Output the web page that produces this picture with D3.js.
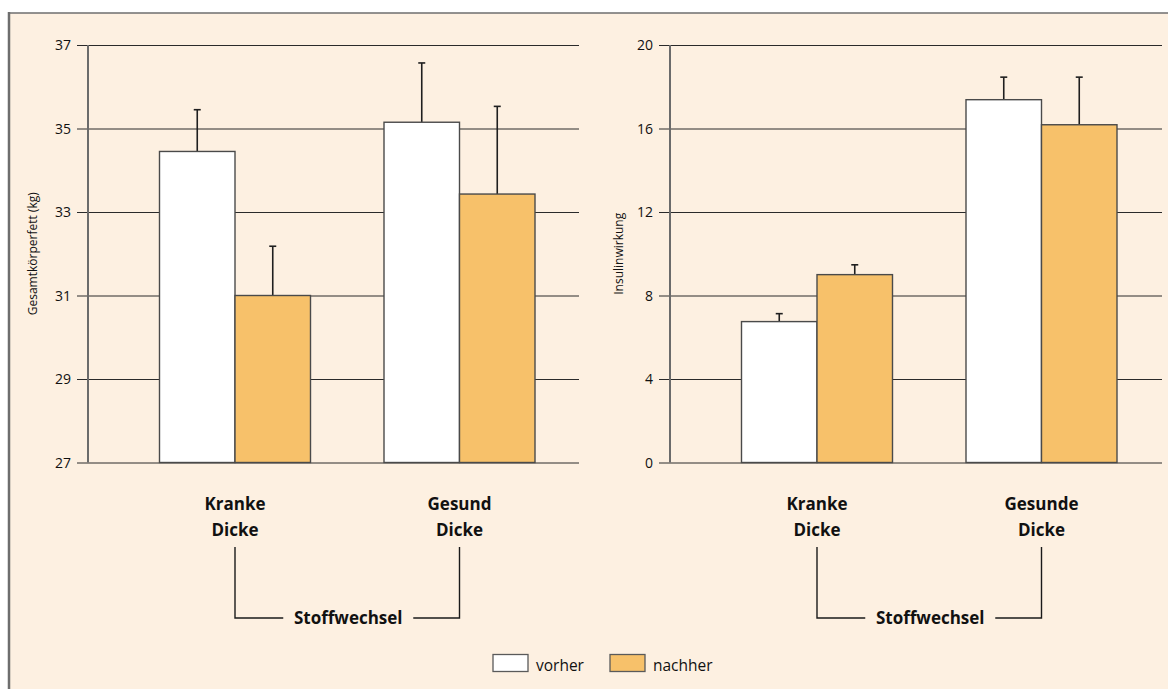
<!DOCTYPE html>
<html>
<head>
<meta charset="utf-8">
<script src="https://cdn.jsdelivr.net/npm/d3@7"></script>
<style>
  html, body { margin: 0; padding: 0; background: #fff; }
  svg { display: block; font-family: "Open Sans", "Noto Sans", sans-serif; }
</style>
</head>
<body>
<svg id="chart" width="1168" height="689"></svg>
<script>
// Groups and series
const groupsLeft = ["Kranke\nDicke", "Gesund\nDicke"];
const groupsRight = ["Kranke\nDicke", "Gesunde\nDicke"];
const series = ["vorher", "nachher"];

// Gesamtkörperfett (kg): means and upper error
const fatVorher = [34.45, 35.15];
const fatNachher = [31.0, 33.43];
const fatErrVorher = [1.0, 1.42];
const fatErrNachher = [1.18, 2.1];

// Insulinwirkung: means and upper error
const insVorher = [6.75, 17.38];
const insNachher = [9.0, 16.18];
const insErrVorher = [0.38, 1.08];
const insErrNachher = [0.47, 2.28];

// Axis ticks
const fatTicks = [27, 29, 31, 33, 35, 37];
const insTicks = [0, 4, 8, 12, 16, 20];

const colors = { vorher: "#ffffff", nachher: "#f7c16a" };
const bg = "#fdf0e1";
const fontFamily = '"Open Sans", "Noto Sans", sans-serif';

const svg = d3.select("#chart");

// panel background with left/top rule
svg.append("rect").attr("x", 9).attr("y", 13).attr("width", 1168).attr("height", 689).attr("fill", bg);
svg.append("line").attr("x1", 9).attr("x2", 9).attr("y1", 12).attr("y2", 689)
  .attr("stroke", "#6e6e6e").attr("stroke-width", 2.5);
svg.append("line").attr("x1", 8).attr("x2", 1168).attr("y1", 13).attr("y2", 13)
  .attr("stroke", "#6e6e6e").attr("stroke-width", 1.5);

function panel(opt) {
  const g = svg.append("g");
  const y = d3.scaleLinear().domain(opt.domain).range([462.5, 45]);
  const x = d3.scalePoint().domain(opt.groups).range([opt.axisX + 147, opt.axisX + 371.5]);
  const xs = d3.scaleBand().domain(series).range([-75.5, 75.5]).padding(0);

  // gridlines + ticks
  const axis = d3.axisLeft(y).tickValues(opt.ticks).tickSize(-(opt.gridEnd - opt.axisX)).tickPadding(17).tickFormat(d3.format("d"));
  const ag = g.append("g").attr("transform", `translate(${opt.axisX},0)`).call(axis)
    .attr("font-family", fontFamily).attr("font-size", 14);
  ag.select(".domain").remove();
  ag.selectAll(".tick line").attr("stroke", "#2a2a2a").attr("stroke-width", 1).attr("x1", -11);
  ag.selectAll(".tick text").attr("fill", "#111").attr("dy", "0.35em");

  // vertical axis line
  g.append("line").attr("x1", opt.axisX).attr("x2", opt.axisX)
    .attr("y1", y(opt.domain[1])).attr("y2", y(opt.domain[0]))
    .attr("stroke", "#6b6b6b").attr("stroke-width", 2);

  // y-axis title
  g.append("text")
    .attr("transform", `translate(${opt.titleX},${(y(opt.domain[0]) + y(opt.domain[1])) / 2}) rotate(-90)`)
    .attr("text-anchor", "middle").attr("font-size", 12).attr("fill", "#111")
    .text(opt.title);

  const rows = [];
  opt.groups.forEach((grp, i) => {
    rows.push({ grp, s: "vorher", v: opt.vorher[i], e: opt.errV[i] });
    rows.push({ grp, s: "nachher", v: opt.nachher[i], e: opt.errN[i] });
  });

  // error bars (upper only)
  const eb = g.selectAll(".err").data(rows).enter().append("g");
  eb.append("line")
    .attr("x1", d => x(d.grp) + xs(d.s) + xs.bandwidth() / 2)
    .attr("x2", d => x(d.grp) + xs(d.s) + xs.bandwidth() / 2)
    .attr("y1", d => y(d.v)).attr("y2", d => y(d.v + d.e))
    .attr("stroke", "#1f1f1f").attr("stroke-width", 1.6);
  eb.append("line")
    .attr("x1", d => x(d.grp) + xs(d.s) + xs.bandwidth() / 2 - 3.5)
    .attr("x2", d => x(d.grp) + xs(d.s) + xs.bandwidth() / 2 + 3.5)
    .attr("y1", d => y(d.v + d.e)).attr("y2", d => y(d.v + d.e))
    .attr("stroke", "#1f1f1f").attr("stroke-width", 1.6);

  // bars
  g.selectAll(".bar").data(rows).enter().append("rect")
    .attr("x", d => x(d.grp) + xs(d.s))
    .attr("width", xs.bandwidth())
    .attr("y", d => y(d.v))
    .attr("height", d => y(opt.domain[0]) - y(d.v))
    .attr("fill", d => colors[d.s])
    .attr("stroke", "#4a4a4a").attr("stroke-width", 1.4);

  // category labels
  opt.groups.forEach(grp => {
    const t = g.append("text").attr("text-anchor", "middle").attr("font-size", 17)
      .attr("font-weight", "bold").attr("fill", "#111");
    grp.split("\n").forEach((line, k) => {
      t.append("tspan").attr("x", x(grp)).attr("y", 510 + k * 26).text(line);
    });
  });

  // bracket joining the groups
  const x0 = x(opt.groups[0]), x1 = x(opt.groups[1]), xm = (x0 + x1) / 2;
  const by = 618;
  const bracket = g.append("g").attr("stroke", "#1a1a1a").attr("stroke-width", 1.4).attr("fill", "none");
  bracket.append("path").attr("d", `M${x0},547 V${by} H${xm - 64}`);
  bracket.append("path").attr("d", `M${x1},547 V${by} H${xm + 66}`);
  g.append("text").attr("x", xm + 1).attr("y", by + 6).attr("text-anchor", "middle")
    .attr("font-size", 17).attr("font-weight", "bold").attr("fill", "#111")
    .text("Stoffwechsel");
}

panel({
  axisX: 88, gridEnd: 579, domain: [27, 37], ticks: fatTicks, groups: groupsLeft,
  vorher: fatVorher, nachher: fatNachher, errV: fatErrVorher, errN: fatErrNachher,
  title: "Gesamtkörperfett (kg)", titleX: 37
});
panel({
  axisX: 670, gridEnd: 1162, domain: [0, 20], ticks: insTicks, groups: groupsRight,
  vorher: insVorher, nachher: insNachher, errV: insErrVorher, errN: insErrNachher,
  title: "Insulinwirkung", titleX: 623
});

// legend
const legend = svg.append("g");
const lx = d3.scaleOrdinal().domain(series).range([493, 610]);
series.forEach(s => {
  legend.append("rect").attr("x", lx(s)).attr("y", 654.5).attr("width", 35).attr("height", 17)
    .attr("fill", colors[s]).attr("stroke", "#5a5a5a").attr("stroke-width", 1.3);
  legend.append("text").attr("x", lx(s) + 43).attr("y", 671).attr("font-size", 15.5)
    .attr("fill", "#111").text(s);
});
</script>
</body>
</html>
